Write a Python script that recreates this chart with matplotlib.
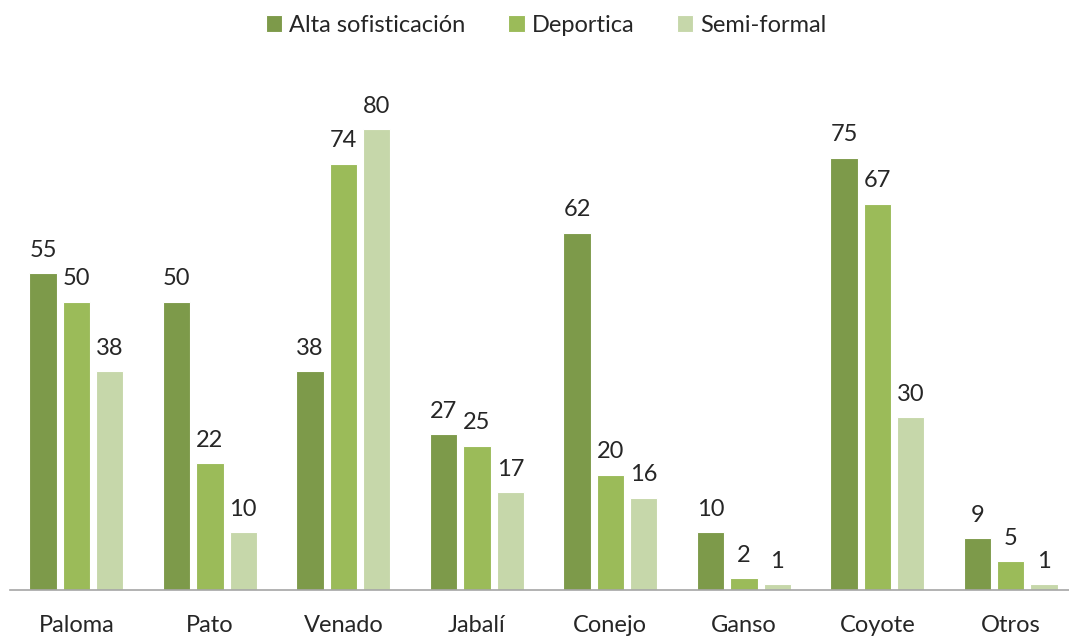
import numpy as np
import matplotlib.pyplot as plt

# data
categories = ['Paloma', 'Pato', 'Venado', 'Jabalí', 'Conejo', 'Ganso', 'Coyote', 'Otros']
series_names = ['Alta sofisticación', 'Deportica', 'Semi-formal']
alta = [55, 50, 38, 27, 62, 10, 75, 9]
deportica = [50, 22, 74, 25, 20, 2, 67, 5]
semi_formal = [38, 10, 80, 17, 16, 1, 30, 1]

colors = ['#7D9A4A', '#9BBB59', '#C6D7AA']

plt.rcParams['font.family'] = ['Lato', 'DejaVu Sans']

fig = plt.figure(figsize=(10.69, 6.41), dpi=100)
ax = fig.add_axes([0.009, 0.0796, 0.999, 0.809])

x = np.arange(len(categories))
step = 0.25
for i, (vals, name) in enumerate(zip([alta, deportica, semi_formal], series_names)):
    bars = ax.bar(x + (i - 1) * step, vals, 0.205, color=colors[i],
                  edgecolor='white', linewidth=0.8, label=name)
    for b, v in zip(bars, vals):
        ax.annotate(str(v), (b.get_x() + b.get_width() / 2, v),
                    xytext=(0, 9), textcoords='offset points',
                    ha='center', va='bottom', fontsize=17, color='#262626')

ax.set_xlim(-0.5, len(categories) - 0.5)
ax.set_ylim(0, 90)
ax.set_xticks(x)
ax.set_xticklabels(categories, fontsize=17, color='#262626')
ax.tick_params(axis='x', length=0, pad=18)
ax.set_yticks([])
for s in ['top', 'right', 'left']:
    ax.spines[s].set_visible(False)
ax.spines['bottom'].set_color('#A6A6A6')
ax.spines['bottom'].set_linewidth(1.2)

fig.legend(loc='upper center', bbox_to_anchor=(0.511, 1.01), ncol=3, frameon=False,
           fontsize=17, handlelength=0.7, handleheight=0.7, handletextpad=0.3,
           columnspacing=1.8, labelcolor='#262626')

fig.savefig('out.png', dpi=100)
